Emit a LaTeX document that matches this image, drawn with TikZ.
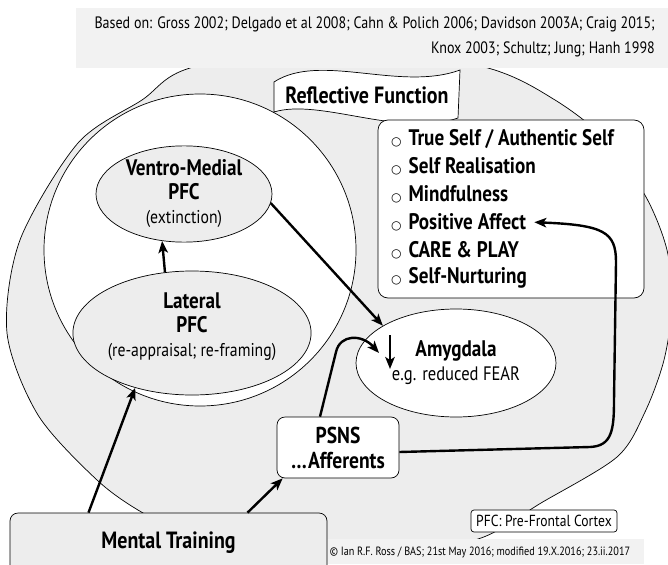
\documentclass[tikz,border=0pt]{standalone}
\usepackage{fontspec}
\setmainfont{PT Sans}[FakeStretch=0.85]
\newfontfamily\symbfont{DejaVu Sans}
\usetikzlibrary{shapes.geometric, arrows.meta, positioning}

\definecolor{panel}{HTML}{EDEDED}
\definecolor{notegray}{HTML}{F2F2F2}

\newcommand{\headf}{\bfseries\fontsize{22.5}{24}\selectfont}
\newcommand{\subf}{\mdseries\fontsize{18.5}{21}\selectfont}
\newcommand{\bul}{{\symbfont\mdseries\fontsize{12}{12}\selectfont ○}\hspace{7pt}}

\tikzset{
  pfc/.style={ellipse, draw, line width=0.7pt, fill=panel, align=center, inner sep=0pt, font=\headf},
  roundbox/.style={draw, line width=0.7pt, rounded corners=8pt, fill=white, align=center, inner sep=0pt, font=\headf},
  arr/.style={-{Stealth[length=12pt,width=9.5pt,inset=3pt]}, line width=2.4pt},
  item/.style={anchor=west, inner sep=0pt, font=\headf},
}

\begin{document}
\begin{tikzpicture}[x=1pt,y=-1pt]
\useasboundingbox (0,0) rectangle (668,564);
\clip (0,0) rectangle (668,564);
\fill[white] (0,0) rectangle (668,564);

% outer region and the reflective circle
\filldraw[fill=panel, draw=black, line width=0.7pt] plot[smooth cycle] coordinates {
  (190,68) (340,40) (488,68) (555,100) (606,140) (646,197) (667,250) (672,305)
  (664,360) (645,412) (617,457) (541,503) (481,538) (390,556) (290,556) (200,540)
  (143,513) (97,480) (38,415) (7,333) (20,240) (78,143) (142,100)};
\filldraw[fill=white, draw=black, line width=0.7pt] (200,250) circle[radius=156pt];

% references
\fill[notegray] (76,8) rectangle (668,68);
\node[anchor=east, align=right, inner sep=0pt, font=\fontsize{16.5}{25}\selectfont] (refs) at (655,37)
  {Based on: Gross 2002; Delgado et al 2008; Cahn \& Polich 2006; Davidson 2003A; Craig 2015;\\
   Knox 2003; Schultz; Jung; Hanh 1998};

% banner
\filldraw[fill=white, draw=black, line width=0.7pt] (274,82) .. controls (320,52) and (400,92) .. (460,70)
  -- (458,118) .. controls (400,138) and (320,98) .. (274,112) -- cycle;
\node[font=\bfseries\fontsize{23.5}{26}\selectfont] (refl) at (367,95) {Reflective Function};

% footer
\fill[notegray] (322,539) rectangle (644,564);
\node[font=\fontsize{12}{14}\selectfont, inner sep=0pt] (credit) at (480,552)
  {© Ian R.F. Ross / BAS; 21st May 2016; modified 19.X.2016; 23.ii.2017};

% PFC areas
\node[pfc, minimum width=176pt, minimum height=85pt] (vm) at (184,194)
  {Ventro-Medial\\PFC\\{\subf (extinction)}};
\node[pfc, minimum width=208pt, minimum height=124pt, text depth=16pt] (lat) at (192,333)
  {Lateral\\PFC\\{\subf (re-appraisal; re-framing)}};

% amygdala
\node[ellipse, draw, line width=0.7pt, fill=white, align=center, inner sep=0pt,
  minimum width=200pt, minimum height=108pt, font=\headf] (amy) at (456,363)
  {Amygdala\\{\mdseries\fontsize{19.5}{21}\selectfont e.g. reduced FEAR}};

% list of outcomes
\node[roundbox, rounded corners=10pt, minimum width=266pt, minimum height=178pt] (listbox) at (511,209) {};
\foreach \txt [count=\i] in {True Self / Authentic Self, Self Realisation, Mindfulness,
    Positive Affect, CARE \& PLAY, Self-Nurturing}
  \node[item] (it\i) at (391,111+27.8*\i) {\bul\txt};

% boxes
\node[roundbox, fill=panel, minimum width=317pt, minimum height=64pt, text depth=10pt,
  font=\bfseries\fontsize{23.5}{26}\selectfont] (mental) at (168.5,545) {Mental Training};
\node[roundbox, minimum width=122pt, minimum height=61pt,
  font=\bfseries\fontsize{23}{25}\selectfont] (psns) at (338,447.5) {PSNS\\…Afferents};
\node[draw, line width=0.7pt, rounded corners=3pt, fill=white, minimum width=146pt, minimum height=22pt,
  inner sep=0pt, font=\fontsize{16}{18}\selectfont] (abbr) at (544,521) {PFC: Pre-Frontal Cortex};

\coordinate (fearA) at (390,335);
\coordinate (fearB) at (390,369);
\coordinate (amyin) at (379,353);

% arrows
\draw[arr] (lat.114) -- (vm.245);
\draw[arr] (vm.354) -- (amy.153);
\draw[arr] ([xshift=-80pt]mental.north) -- (lat.224);
\draw[arr] ([xshift=79pt]mental.north) -- ([xshift=6pt]psns.south west);
\draw[arr] ([xshift=-18pt]psns.north) -- (336,352) .. controls (340,334) and (362,334) .. (amyin);
\draw[arr] ([yshift=-4.5pt]psns.east) -- (590,447) .. controls (612,446) and (614,430) .. (614,400)
  -- (616,262) .. controls (616,232) and (604,225) .. ([xshift=8pt]it4.east);
\draw[arr] (fearA) -- (fearB);
\end{tikzpicture}
\end{document}
